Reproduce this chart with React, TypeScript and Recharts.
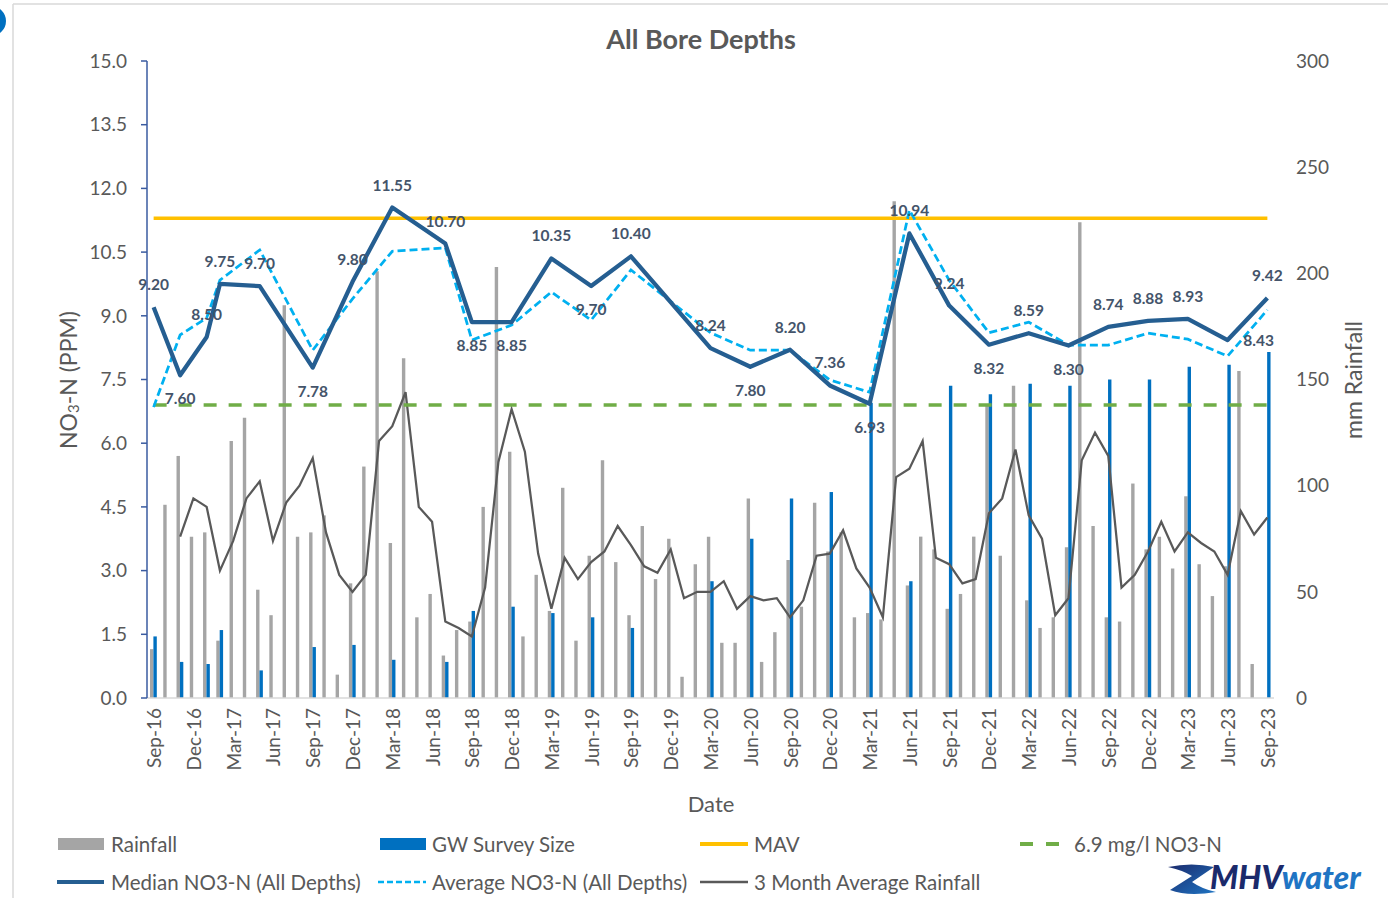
import React from "react";
import { ComposedChart, Bar, Line, XAxis, YAxis, ReferenceLine, LabelList } from "recharts";

// monthly categories, Sep-16 .. Sep-23
const months = [
  "Sep-16", "Oct-16", "Nov-16", "Dec-16",
  "Jan-17", "Feb-17", "Mar-17", "Apr-17", "May-17", "Jun-17", "Jul-17", "Aug-17", "Sep-17", "Oct-17", "Nov-17", "Dec-17",
  "Jan-18", "Feb-18", "Mar-18", "Apr-18", "May-18", "Jun-18", "Jul-18", "Aug-18", "Sep-18", "Oct-18", "Nov-18", "Dec-18",
  "Jan-19", "Feb-19", "Mar-19", "Apr-19", "May-19", "Jun-19", "Jul-19", "Aug-19", "Sep-19", "Oct-19", "Nov-19", "Dec-19",
  "Jan-20", "Feb-20", "Mar-20", "Apr-20", "May-20", "Jun-20", "Jul-20", "Aug-20", "Sep-20", "Oct-20", "Nov-20", "Dec-20",
  "Jan-21", "Feb-21", "Mar-21", "Apr-21", "May-21", "Jun-21", "Jul-21", "Aug-21", "Sep-21", "Oct-21", "Nov-21", "Dec-21",
  "Jan-22", "Feb-22", "Mar-22", "Apr-22", "May-22", "Jun-22", "Jul-22", "Aug-22", "Sep-22", "Oct-22", "Nov-22", "Dec-22",
  "Jan-23", "Feb-23", "Mar-23", "Apr-23", "May-23", "Jun-23", "Jul-23", "Aug-23", "Sep-23",
];

// monthly rainfall (mm)
const rainfall = [
  23, 91, 114, 76,
  78, 27, 121, 132, 51, 39, 185, 76, 78, 86, 11, 54,
  109, 201, 73, 160, 38, 49, 20, 32, 36, 90, 203, 116,
  29, 58, 41, 99, 27, 67, 112, 64, 39, 81, 56, 75,
  10, 63, 76, 26, 26, 94, 17, 31, 65, 43, 92, 69,
  78, 38, 40, 37, 234, 53, 76, 70, 42, 49, 76, 138,
  67, 147, 46, 33, 38, 71, 224, 81, 38, 36, 101, 70,
  76, 61, 95, 63, 48, 62, 154, 16, null,
];

// 3 month average rainfall (mm)
const rainfall3Month = [
  null, null, 76, 94,
  90, 60, 74, 94, 102, 74, 92, 100, 113, 78, 58, 50,
  58, 121, 128, 144, 90, 83, 36, 33, 29, 52, 111, 136,
  116, 68, 42, 66, 56, 64, 69, 81, 72, 62, 59, 70,
  47, 50, 50, 55, 42, 48, 46, 47, 38, 46, 67, 68,
  79, 61, 52, 38, 104, 108, 121, 66, 63, 54, 56, 87,
  94, 117, 86, 75, 39, 47, 112, 125, 114, 52, 58, 69,
  83, 69, 78, 73, 69, 58, 88, 77, 85,
];

// groundwater survey rounds
const surveyDates = [
  "Sep-16", "Nov-16", "Jan-17", "Feb-17", "May-17", "Sep-17", "Dec-17", "Mar-18", "Jul-18", "Sep-18",
  "Dec-18", "Mar-19", "Jun-19", "Sep-19", "Mar-20", "Jun-20", "Sep-20", "Dec-20", "Mar-21", "Jun-21",
  "Sep-21", "Dec-21", "Mar-22", "Jun-22", "Sep-22", "Dec-22", "Mar-23", "Jun-23", "Sep-23",
];
const surveySize = [
  29, 17, 16, 32, 13, 24, 25, 18, 17, 41,
  43, 40, 38, 33, 55, 75, 94, 97, 139, 55,
  147, 143, 148, 147, 150, 150, 156, 157, 163,
];
const medianNO3 = [
  9.2, 7.6, 8.5, 9.75, 9.7, 7.78, 9.8, 11.55, 10.7, 8.85,
  8.85, 10.35, 9.7, 10.4, 8.24, 7.8, 8.2, 7.36, 6.93, 10.94,
  9.24, 8.32, 8.59, 8.3, 8.74, 8.88, 8.93, 8.43, 9.42,
];
const averageNO3 = [
  6.85, 8.55, 8.95, 9.84, 10.55, 8.19, 9.4, 10.52, 10.6, 8.43,
  8.78, 9.56, 8.9, 10.08, 8.6, 8.19, 8.19, 7.49, 7.2, 11.49,
  9.84, 8.6, 8.85, 8.31, 8.31, 8.59, 8.45, 8.05, 9.14,
];
// where each median label sits relative to its point
const labelSide = [
  "top", "bottom", "top", "top", "top", "bottom", "top", "top", "top", "bottom",
  "bottom", "top", "bottom", "top", "top", "bottom", "top", "top", "bottom", "top",
  "top", "bottom", "top", "bottom", "top", "top", "top", "right", "top",
];

const MAV = 11.3;
const threshold = 6.9;
const leftTicks = [0, 1.5, 3, 4.5, 6, 7.5, 9, 10.5, 12, 13.5, 15];
const rightTicks = [0, 50, 100, 150, 200, 250, 300];

const rows = months.map((date, i) => {
  const s = surveyDates.indexOf(date);
  return {
    date,
    rainfall: rainfall[i],
    rain3m: rainfall3Month[i],
    survey: s >= 0 ? surveySize[s] : null,
    median: s >= 0 ? medianNO3[s] : null,
    average: s >= 0 ? averageNO3[s] : null,
  };
});

const FONT = "Lato, 'Open Sans', sans-serif";
const GREY_TEXT = "#595959";

const XTick = (props: any) => {
  const { x, y, payload } = props;
  return (
    <text
      x={x}
      y={y}
      transform={`rotate(-90, ${x}, ${y})`}
      textAnchor="end"
      dominantBaseline="central"
      fill={GREY_TEXT}
      fontSize={19}
      fontFamily={FONT}
    >
      {payload.value}
    </text>
  );
};

const renderMedianLabel = (props: any) => {
  const { x, y, value, index } = props;
  if (value == null || x == null || y == null) return null;
  const s = surveyDates.indexOf(rows[index]?.date);
  const side = s >= 0 ? labelSide[s] : "top";
  let lx = x;
  let ly = y - 23;
  if (side === "bottom") ly = y + 23;
  if (side === "right") {
    lx = x + 31;
    ly = y;
  }
  return (
    <text
      x={lx}
      y={ly}
      textAnchor="middle"
      dominantBaseline="central"
      fill="#44546A"
      fontSize={15.5}
      fontWeight={700}
      fontFamily={FONT}
    >
      {Number(value).toFixed(2)}
    </text>
  );
};

const legendText = {
  fill: GREY_TEXT,
  fontSize: 20.5,
  fontFamily: FONT,
  dominantBaseline: "central" as const,
};

export default function App() {
  return (
    <div style={{ position: "absolute", left: 0, top: 0, width: 1388, height: 898, background: "#fff", overflow: "hidden" }}>
      <ComposedChart
        width={1388}
        height={898}
        data={rows}
        margin={{ top: 61, right: 34, left: 67, bottom: 110 }}
        barGap={0}
        barSize={3.4}
      >
        <XAxis
          dataKey="date"
          interval={2}
          tick={<XTick />}
          tickLine={false}
          tickSize={0}
          tickMargin={10}
          axisLine={{ stroke: "#D9D9D9", strokeWidth: 1.5 }}
          height={90}
        />
        <YAxis
          yAxisId="left"
          domain={[0, 15]}
          ticks={leftTicks}
          tickFormatter={(v: number) => v.toFixed(1)}
          width={80}
          axisLine={{ stroke: "#3A5BA0", strokeWidth: 1.5 }}
          tickLine={{ stroke: "#3A5BA0", strokeWidth: 1.5 }}
          tickSize={6}
          tickMargin={14}
          tick={{ fill: GREY_TEXT, fontSize: 19, fontFamily: FONT }}
        />
        <YAxis
          yAxisId="right"
          orientation="right"
          domain={[0, 300]}
          ticks={rightTicks}
          width={80}
          axisLine={false}
          tickLine={false}
          tickSize={0}
          tickMargin={22}
          tick={{ fill: GREY_TEXT, fontSize: 19, fontFamily: FONT, textAnchor: "start" }}
        />
        <Bar yAxisId="right" dataKey="rainfall" name="Rainfall" fill="#A5A5A5" barSize={3.4} isAnimationActive={false} />
        <Bar yAxisId="right" dataKey="survey" name="GW Survey Size" fill="#0070C0" barSize={3.4} isAnimationActive={false} />
        <Line
          yAxisId="right"
          dataKey="rain3m"
          name="3 Month Average Rainfall"
          stroke="#595959"
          strokeWidth={2.25}
          dot={false}
          activeDot={false}
          isAnimationActive={false}
        />
        <ReferenceLine
          yAxisId="left"
          segment={[{ x: months[0], y: MAV }, { x: months[months.length - 1], y: MAV }]}
          stroke="#FFC000"
          strokeWidth={3.5}
        />
        <ReferenceLine
          yAxisId="left"
          segment={[{ x: months[0], y: threshold }, { x: months[months.length - 1], y: threshold }]}
          stroke="#70AD47"
          strokeWidth={3.5}
          strokeDasharray="13 12"
        />
        <Line
          yAxisId="left"
          dataKey="average"
          name="Average NO3-N (All Depths)"
          stroke="#00B0F0"
          strokeWidth={2.75}
          strokeDasharray="8 4"
          connectNulls
          dot={false}
          activeDot={false}
          isAnimationActive={false}
        />
        <Line
          yAxisId="left"
          dataKey="median"
          name="Median NO3-N (All Depths)"
          stroke="#255E91"
          strokeWidth={4.25}
          strokeLinejoin="round"
          connectNulls
          dot={false}
          activeDot={false}
          isAnimationActive={false}
        >
          <LabelList dataKey="median" content={renderMedianLabel} />
        </Line>
      </ComposedChart>

      <svg
        width={1388}
        height={898}
        style={{ position: "absolute", left: 0, top: 0, pointerEvents: "none" }}
      >
        {/* frame and corner decoration */}
        <line x1={13} y1={4} x2={1388} y2={4} stroke="#D9D9D9" strokeWidth={1.5} />
        <line x1={13} y1={4} x2={13} y2={898} stroke="#D9D9D9" strokeWidth={1.5} />
        <circle cx={-9} cy={21} r={15} fill="#0070C0" />

        <text x={701} y={38} textAnchor="middle" dominantBaseline="central" fill={GREY_TEXT} fontSize={27} fontWeight={700} fontFamily={FONT}>
          All Bore Depths
        </text>
        <text
          x={68}
          y={380}
          transform="rotate(-90, 68, 380)"
          textAnchor="middle"
          dominantBaseline="central"
          fill={GREY_TEXT}
          fontSize={23}
          fontFamily={FONT}
        >
          NO<tspan fontSize={15} dy={5}>3</tspan>
          <tspan dy={-5}>-N (PPM)</tspan>
        </text>
        <text
          x={1353}
          y={380}
          transform="rotate(-90, 1353, 380)"
          textAnchor="middle"
          dominantBaseline="central"
          fill={GREY_TEXT}
          fontSize={23}
          fontFamily={FONT}
        >
          mm Rainfall
        </text>
        <text x={711} y={803} textAnchor="middle" dominantBaseline="central" fill={GREY_TEXT} fontSize={22} fontFamily={FONT}>
          Date
        </text>

        {/* legend */}
        <rect x={58} y={838} width={46} height={12} fill="#A5A5A5" />
        <text x={111} y={844} {...legendText}>Rainfall</text>
        <rect x={380} y={838} width={46} height={12} fill="#0070C0" />
        <text x={432} y={844} {...legendText}>GW Survey Size</text>
        <line x1={700} y1={844} x2={748} y2={844} stroke="#FFC000" strokeWidth={4} />
        <text x={754} y={844} {...legendText}>MAV</text>
        <line x1={1020} y1={844} x2={1062} y2={844} stroke="#70AD47" strokeWidth={4} strokeDasharray="13 13" />
        <text x={1074} y={844} {...legendText}>6.9 mg/l NO3-N</text>

        <line x1={57} y1={882} x2={104} y2={882} stroke="#255E91" strokeWidth={4} />
        <text x={111} y={882} {...legendText}>Median NO3-N (All Depths)</text>
        <line x1={378} y1={882} x2={426} y2={882} stroke="#00B0F0" strokeWidth={2.5} strokeDasharray="6 3" />
        <text x={432} y={882} {...legendText}>Average NO3-N (All Depths)</text>
        <line x1={700} y1={882} x2={748} y2={882} stroke="#595959" strokeWidth={2.5} />
        <text x={754} y={882} {...legendText}>3 Month Average Rainfall</text>

        {/* logo */}
        <defs>
          <linearGradient id="swoosh" x1="0" y1="0" x2="1" y2="1">
            <stop offset="0%" stopColor="#1B2A6B" />
            <stop offset="100%" stopColor="#1F75C4" />
          </linearGradient>
        </defs>
        <path
          d="M1168,867 Q1192,862 1214,867 L1192,882 Q1202,889 1216,892 Q1188,897 1170,890 L1192,876 Q1182,870 1168,867 Z"
          fill="url(#swoosh)"
        />
        <text x={1210} y={876} dominantBaseline="central" fontSize={32} fontWeight={900} fontStyle="italic" fontFamily={FONT}>
          <tspan fill="#1B2A6B">MHV</tspan>
          <tspan fill="#1F75C4">water</tspan>
        </text>
      </svg>
    </div>
  );
}
